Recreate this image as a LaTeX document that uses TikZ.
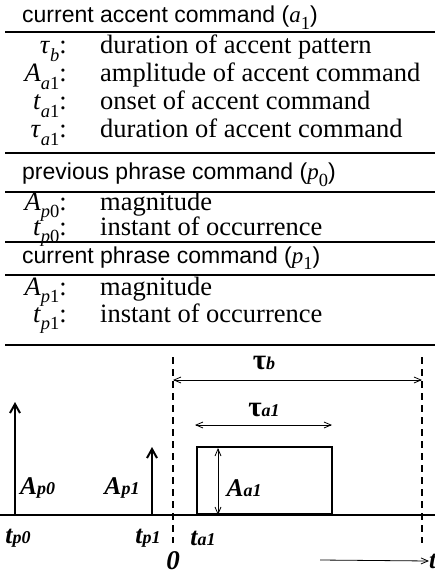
\documentclass[tikz,border=0pt]{standalone}
\usepackage{fontspec}
\setmainfont{Liberation Serif}
\setsansfont{Liberation Sans}
\usetikzlibrary{arrows.meta,positioning}
\newcommand\tsub[2]{{\rmfamily\textit{#1}\raisebox{-0.28em}{\fontsize{18.5}{18.5}\selectfont #2}}}
\newcommand\dsub[2]{#1{\fontsize{18}{18}\selectfont #2}}
\newcommand\dtau{{\fontsize{29}{29}\selectfont\upshape τ}}

\begin{document}
\begin{tikzpicture}[x=1pt,y=-1pt,
    lbl/.style={anchor=base east,inner sep=0pt,font=\fontsize{26.5}{28}\selectfont},
    desc/.style={anchor=base west,inner sep=0pt,font=\fontsize{26.5}{28}\selectfont},
    hdr/.style={anchor=base west,inner sep=0pt,font=\sffamily\fontsize{23}{28}\selectfont},
    rule/.style={line width=1.2pt},
    sig/.style={font=\bfseries\itshape\fontsize{25.5}{26}\selectfont,inner sep=0pt},
    impulse/.style={line width=2pt,-{Straight Barb[length=9pt,width=10pt]}},
    dim/.style={line width=0.8pt,{Straight Barb[length=7pt,width=6pt]}-{Straight Barb[length=7pt,width=6pt]}},
    guide/.style={line width=2pt,dash pattern=on 7pt off 5pt}]
  \useasboundingbox (0,0) rectangle (435,577);

  % table of parameters
  \node[hdr] (hdrAcc) at (22,23) {current accent command (\tsub{a}{1})};
  \draw[rule] (5,32) -- (435,32);
  \node[lbl] (lTauB) at (67,54) {\tsub{τ}{\textit{b}}:};
  \node[desc] (dTauB) at (100,54) {duration of accent pattern};
  \node[lbl] (lAa) at (67,82) {\tsub{A}{\textit{a}1}:};
  \node[desc] (dAa) at (100,82) {amplitude of accent command};
  \node[lbl] (lTa) at (67,110) {\tsub{t}{\textit{a}1}:};
  \node[desc] (dTa) at (100,110) {onset of accent command};
  \node[lbl] (lTauA) at (67,138) {\tsub{τ}{\textit{a}1}:};
  \node[desc] (dTauA) at (100,138) {duration of accent command};
  \draw[rule] (5,153) -- (435,153);
  \node[hdr] (hdrPrev) at (22,180) {previous phrase command (\tsub{p}{0})};
  \draw[rule] (5,192) -- (435,192);
  \node[lbl] (lAp0) at (67,210) {\tsub{A}{\textit{p}0}:};
  \node[desc] (dAp0) at (100,210) {magnitude};
  \node[lbl] (lTp0) at (67,235) {\tsub{t}{\textit{p}0}:};
  \node[desc] (dTp0) at (100,235) {instant of occurrence};
  \draw[rule] (5,242) -- (435,242);
  \node[hdr] (hdrCur) at (22,263) {current phrase command (\tsub{p}{1})};
  \draw[rule] (5,275) -- (435,275);
  \node[lbl] (lAp1) at (67,295) {\tsub{A}{\textit{p}1}:};
  \node[desc] (dAp1) at (100,295) {magnitude};
  \node[lbl] (lTp1) at (67,322) {\tsub{t}{\textit{p}1}:};
  \node[desc] (dTp1) at (100,322) {instant of occurrence};
  \draw[rule] (5,345) -- (435,345);

  % command diagram
  \coordinate (axL) at (0,515);
  \coordinate (axR) at (435,515);
  \draw[line width=2pt] (axL) -- (axR);

  \coordinate (p0base) at (15,515);
  \coordinate (p0top) at (15,402);
  \coordinate (p1base) at (152,515);
  \coordinate (p1top) at (152,447);
  \draw[impulse] (p0base) -- (p0top);
  \draw[impulse] (p1base) -- (p1top);

  \node[draw,line width=2pt,inner sep=0pt,anchor=south west,
    minimum width=135pt,minimum height=67pt] (accBox) at (196,515) {};

  \coordinate (g0top) at (173,357);
  \coordinate (g0bot) at (173,543);
  \coordinate (g1top) at (422,357);
  \coordinate (g1bot) at (422,543);
  \draw[guide] (g0top) -- (g0bot);
  \draw[guide] (g1top) -- (g1bot);

  \coordinate (tbL) at (173,380);
  \coordinate (tbR) at (422,380);
  \draw[dim] (tbL) -- (tbR);
  \coordinate (taL) at (195,425);
  \coordinate (taR) at (332,425);
  \draw[dim] (taL) -- (taR);
  \coordinate (aaTop) at (218,448);
  \coordinate (aaBot) at (218,515);
  \draw[dim] (aaTop) -- (aaBot);

  \node[sig] (sTauB) at (264,363) {\dtau\dsub{}{b}};
  \node[sig] (sTauA) at (264,410) {\dtau\dsub{}{a1}};
  \node[sig,anchor=west] (sAp0) at (20,488) {\dsub{A}{p0}};
  \node[sig] (sAp1) at (122,488) {\dsub{A}{p1}};
  \node[sig] (sAa1) at (244,488) {\dsub{A}{a1}};
  \node[sig] (sTp0) at (18,538) {\dsub{t}{p0}};
  \node[sig] (sTp1) at (148,538) {\dsub{t}{p1}};
  \node[sig] (sTa1) at (203,538) {\dsub{t}{a1}};
  \node[sig,font=\bfseries\itshape\fontsize{27}{27}\selectfont] (sZero) at (173,561) {0};

  \coordinate (tArrL) at (320,560);
  \node[sig,anchor=west] (sTime) at (429,561) {t};
  \draw[line width=0.8pt,-{Straight Barb[length=7pt,width=6pt]}] (tArrL) -- (sTime.west);
\end{tikzpicture}
\end{document}
